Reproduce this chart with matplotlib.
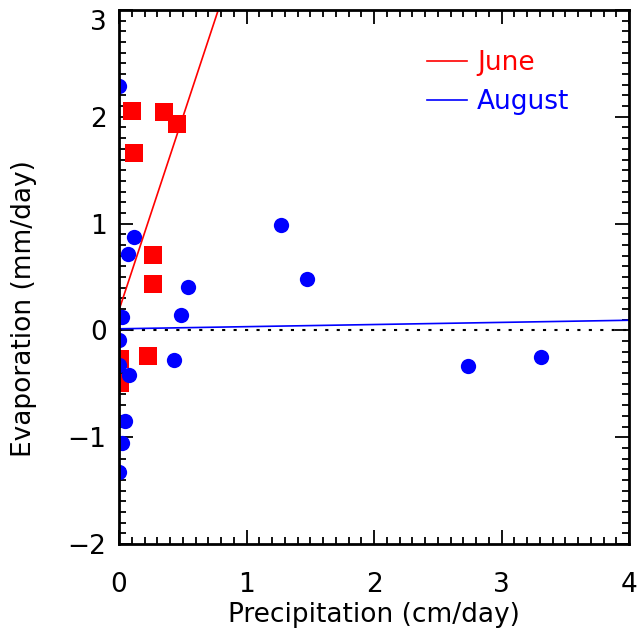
import numpy as np
import matplotlib.pyplot as plt
from matplotlib.ticker import MultipleLocator

# June (red squares)
june_p = [0.10, 0.353, 0.455, 0.118, 0.267, 0.267, 0.227, 0.01, 0.01]
june_e = [2.055, 2.045, 1.93, 1.66, 0.71, 0.43, -0.24, -0.27, -0.49]

# August (blue circles)
aug_p = [0.0, 0.118, 0.07, 1.27, 1.475, 0.54, 0.486, 0.02, 0.43,
         0.0, 0.0, 0.075, 0.05, 0.02, 0.0, 2.74, 3.31]
aug_e = [2.29, 0.875, 0.715, 0.985, 0.48, 0.41, 0.145, 0.125, -0.28,
         -0.09, -0.32, -0.42, -0.85, -1.05, -1.33, -0.33, -0.25]

# fitted lines: intercept, slope
june_fit = (0.19, 3.61)
aug_fit = (0.015, 0.02)

yticks = [-2, -1, 0, 1, 2, 3]
ytick_labels = ['\u22122', '\u22121', '0', '1', '2', '3']

plt.rcParams['font.family'] = ['DejaVu Sans']
fs = 19

fig = plt.figure(figsize=(6.37, 6.39), dpi=100)
ax = fig.add_axes([119/637, 1-544/639, 510/637, 534/639])

xx = np.array([0, 4])
ax.plot(xx, [0, 0], color='black', linestyle=(0, (1.5, 4)), lw=1.5)

ax.plot(june_p, june_e, 's', color='red', markersize=13, markeredgewidth=0)
ax.plot(aug_p, aug_e, 'o', color='blue', markersize=11, markeredgewidth=0)

ax.plot(xx, june_fit[0] + june_fit[1]*xx, color='red', lw=1.2, label='June')
ax.plot(xx, aug_fit[0] + aug_fit[1]*xx, color='blue', lw=1.2, label='August')

ax.set_xlim(0, 4)
ax.set_ylim(-2, 3)
ax.xaxis.set_major_locator(MultipleLocator(1))
ax.xaxis.set_minor_locator(MultipleLocator(0.1))
ax.yaxis.set_minor_locator(MultipleLocator(0.1))
ax.set_yticks(yticks)
ax.set_yticklabels(ytick_labels)
ax.get_yticklabels()[-1].set_va('top')
ax.tick_params(which='both', direction='in', top=True, right=True, width=1.3)
ax.tick_params(which='major', length=10, labelsize=fs)
ax.tick_params(which='minor', length=5)
ax.tick_params(axis='x', pad=20)
ax.tick_params(axis='y', pad=9)
for s in ax.spines.values():
    s.set_linewidth(2)

ax.set_xlabel('Precipitation (cm/day)', fontsize=fs, labelpad=3)
ax.set_ylabel('Evaporation (mm/day)', fontsize=fs)
ax.yaxis.set_label_coords(-0.16, 0.44)

leg = ax.legend(loc='upper left', bbox_to_anchor=(0.604, 0.925), frameon=False,
                borderpad=0, borderaxespad=0, fontsize=fs, handlelength=1.5,
                handletextpad=0.4, labelspacing=0.5)
for txt, c in zip(leg.get_texts(), ['red', 'blue']):
    txt.set_color(c)

fig.savefig('out.png', dpi=100)
